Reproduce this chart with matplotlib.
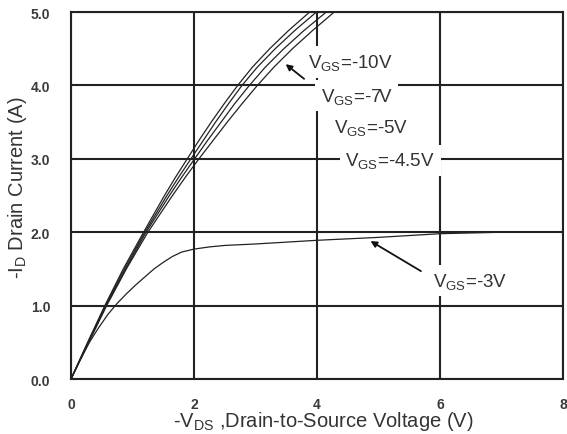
import matplotlib
matplotlib.use("Agg")
import matplotlib.pyplot as plt

plt.rcParams['font.family'] = ['Liberation Sans', 'DejaVu Sans']
plt.rcParams['mathtext.fontset'] = 'custom'
plt.rcParams['mathtext.rm'] = 'Liberation Sans'
plt.rcParams['mathtext.it'] = 'Liberation Sans'

# output characteristics, -ID (A) against -VDS (V)
id_steps = [0, 0.5, 1.0, 1.5, 2.0, 2.5, 2.75, 3.0, 3.25, 3.5, 3.75, 4.0, 4.25, 4.5, 4.75, 5.0]
vds_10v = [0, 0.27, 0.55, 0.85, 1.18, 1.52, 1.70, 1.89, 2.08, 2.28, 2.49, 2.71, 2.95, 3.23, 3.54, 3.88]
vds_7v = [0, 0.28, 0.56, 0.87, 1.20, 1.56, 1.75, 1.95, 2.15, 2.35, 2.56, 2.78, 3.03, 3.32, 3.64, 3.99]
vds_5v = [0, 0.28, 0.57, 0.89, 1.22, 1.60, 1.80, 2.01, 2.22, 2.44, 2.66, 2.90, 3.16, 3.46, 3.79, 4.15]
vds_45v = [0, 0.29, 0.58, 0.90, 1.25, 1.65, 1.86, 2.08, 2.31, 2.54, 2.78, 3.03, 3.30, 3.60, 3.93, 4.28]

vds_3v = [0, 0.15, 0.3, 0.45, 0.6, 0.75, 0.9, 1.05, 1.2, 1.35, 1.5, 1.65, 1.8, 2.0,
          2.25, 2.5, 3.0, 4.0, 5.0, 6.0, 7.0]
id_3v = [0, 0.26, 0.50, 0.70, 0.88, 1.03, 1.16, 1.28, 1.39, 1.50, 1.59, 1.67, 1.73, 1.77,
         1.80, 1.82, 1.84, 1.89, 1.93, 1.98, 2.0]

xticks = [0, 2, 4, 6, 8]
yticks = [0.0, 1.0, 2.0, 3.0, 4.0, 5.0]

fig = plt.figure(figsize=(5.67, 4.35), dpi=100)
ax = fig.add_axes([0.1252, 0.1264, 0.8678, 0.8436])

for vds in (vds_10v, vds_7v, vds_5v, vds_45v):
    ax.plot(vds, id_steps, color='#222222', lw=0.9, zorder=2)
ax.plot(vds_3v, id_3v, color='#222222', lw=0.9, zorder=2)

ax.set_xlim(0, 8)
ax.set_ylim(0, 5)
ax.set_xticks(xticks)
ax.set_yticks(yticks)
ax.set_xticklabels([str(t) for t in xticks])
ax.set_yticklabels(['%.1f' % t for t in yticks])
ax.tick_params(length=0, labelsize=10, labelcolor='#3a3a3a')
ax.tick_params(axis='x', pad=13)
ax.tick_params(axis='y', pad=15)
for lab in ax.get_xticklabels() + ax.get_yticklabels():
    lab.set_fontweight('bold')

ax.set_axisbelow(True)
ax.grid(True, color='#222222', lw=1.5)
for sp in ax.spines.values():
    sp.set_color('#222222')
    sp.set_linewidth(1.5)

box = dict(facecolor='white', edgecolor='none', pad=4)
lab_kw = dict(fontsize=13.5, color='#333333', va='center', ha='left', bbox=box, zorder=4)
ax.text(3.85, 4.32, r'V$_{\rm GS}$=-10V', **lab_kw)
ax.text(4.06, 3.86, r'V$_{\rm GS}$=-7V', **lab_kw)
ax.text(4.28, 3.43, r'V$_{\rm GS}$=-5V', **lab_kw)
ax.text(4.46, 2.98, r'V$_{\rm GS}$=-4.5V', **lab_kw)
ax.text(5.89, 1.34, r'V$_{\rm GS}$=-3V', **lab_kw)

arrow = dict(arrowstyle='-|>', color='#111111', lw=1.3, mutation_scale=9, shrinkA=0, shrinkB=0)
ax.annotate('', xy=(3.49, 4.29), xytext=(3.79, 4.09), arrowprops=arrow, zorder=5)
ax.annotate('', xy=(4.87, 1.88), xytext=(5.69, 1.47), arrowprops=arrow, zorder=5)

fig.text(0.57, 0.032, r'-V$_{\rm DS}$ ,Drain-to-Source Voltage (V)',
         fontsize=14.5, color='#333333', ha='center', va='center')
fig.text(0.030, 0.568, r'-I$_{\rm D}$ Drain Current (A)',
         fontsize=14.5, color='#333333', ha='center', va='center', rotation=90)

fig.savefig('out.png', dpi=100)
